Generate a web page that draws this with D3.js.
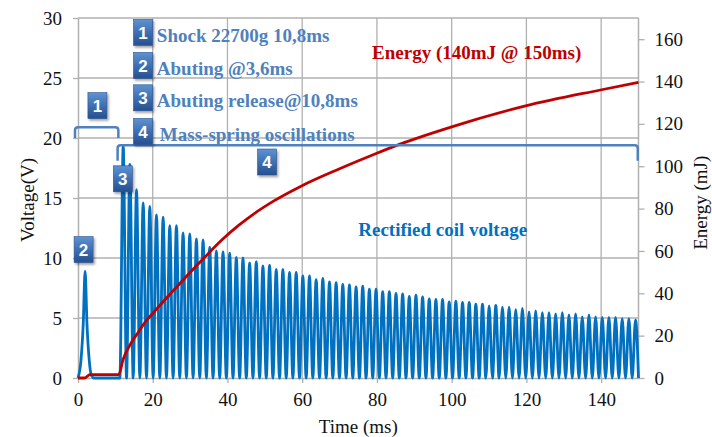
<!DOCTYPE html>
<html>
<head>
<meta charset="utf-8">
<script src="https://cdn.jsdelivr.net/npm/d3@7"></script>
<style>
  body { margin: 0; background: #fff; }
  svg { display: block; }
  text { font-family: "Liberation Serif", "Times New Roman", serif; }
</style>
</head>
<body>
<div id="chart"></div>
<script>
// tick values
const timeTicks = [0, 20, 40, 60, 80, 100, 120, 140];
const voltTicks = [0, 5, 10, 15, 20, 25, 30];
const energyTicks = [0, 20, 40, 60, 80, 100, 120, 140, 160];

// first (abutting) pulse of the coil voltage
const pulseT = [0, 0.8, 1.4, 1.9, 2.4, 3.0, 3.6, 4.3, 11.2];
const pulseV = [0, 1.5, 4.5, 8.9, 4.5, 1.5, 0.2, 0, 0];

// rectified oscillation peaks (ms, V)
const peakT = [12.10, 13.88, 15.66, 17.44, 19.22, 21.00, 22.78, 24.56, 26.34, 28.12,
  29.91, 31.69, 33.47, 35.25, 37.03, 38.81, 40.59, 42.37, 44.15, 45.93,
  47.71, 49.49, 51.27, 53.05, 54.83, 56.61, 58.39, 60.17, 61.95, 63.73,
  65.52, 67.30, 69.08, 70.86, 72.64, 74.42, 76.20, 77.98, 79.76, 81.54,
  83.32, 85.10, 86.88, 88.66, 90.44, 92.22, 94.00, 95.78, 97.56, 99.34,
  101.12, 102.91, 104.69, 106.47, 108.25, 110.03, 111.81, 113.59, 115.37, 117.15,
  118.93, 120.71, 122.49, 124.27, 126.05, 127.83, 129.61, 131.39, 133.17, 134.95,
  136.74, 138.52, 140.30, 142.08, 143.86, 145.64, 147.42, 149.20];
const peakV = [19.3, 17.8, 15.7, 14.6, 14.3, 13.6, 13.4, 12.7, 12.7, 12.1,
  12.0, 11.6, 11.5, 10.9, 10.6, 10.5, 10.4, 10.05, 10.0, 9.6,
  9.7, 9.35, 9.4, 9.05, 9.05, 8.8, 8.8, 8.5, 8.5, 8.2,
  8.3, 8.0, 7.95, 7.8, 7.75, 7.6, 7.65, 7.4, 7.4, 7.2,
  7.2, 7.05, 7.0, 6.8, 6.9, 6.75, 6.6, 6.55, 6.55, 6.35,
  6.4, 6.3, 6.3, 6.15, 6.15, 6.0, 6.05, 5.9, 5.9, 5.7,
  5.8, 5.5, 5.6, 5.45, 5.45, 5.35, 5.45, 5.25, 5.35, 5.1,
  5.25, 5.1, 5.05, 5.05, 5.05, 4.95, 4.95, 4.85];
const endT = 150;

// harvested energy (ms, mJ)
const energyT = [0, 1.8, 3.2, 10.9, 12.1, 14.3, 16.1, 17.9, 20.6, 25.0, 29.5, 33.9,
  38.4, 42.8, 46.8, 52.2, 59.7, 70.0, 79.8, 86.0, 99.8, 119.8, 139.8, 150];
const energyE = [0, 0, 1.6, 1.6, 8.9, 16.8, 21.5, 26.2, 31.7, 40.3, 48.9, 57.0,
  65.0, 71.8, 77.2, 83.4, 90.6, 98.8, 106.0, 110.3, 118.5, 128.5, 136, 139.6];

// annotations
const bracketFrom = [-0.8, 10.6];
const bracketTo = [10.8, 149.8];
const bracketTop = [20.9, 19.4];
const bracketFoot = [20.0, 18.1];
const markerLabels = ["1", "2", "3", "4"];
const markerT = [5.2, 1.5, 12.0, 50.6];
const markerV = [22.7, 10.7, 16.6, 18.0];
const legendLabels = ["Shock 22700g 10,8ms", "Abuting @3,6ms", "Abuting release@10,8ms", "Mass-spring oscillations"];
const legendV = [28.8, 26.05, 23.35, 20.55];
const legendBoxT = 17.4;
const legendTextT = [21.1, 21.1, 21.1, 21.9];

const width = 712, height = 437;
const fontSize = "19px";
const svg = d3.select("#chart").append("svg")
  .attr("width", width)
  .attr("height", height);

const x = d3.scaleLinear().domain([0, 150]).range([78, 638.5]);
const yV = d3.scaleLinear().domain([0, 30]).range([378, 18]);
const yE = d3.scaleLinear().domain([0, 170]).range([378, 18]);

const gridColor = "#b0b0b0";

// gradient for the numbered boxes
const defs = svg.append("defs");
const grad = defs.append("linearGradient").attr("id", "boxGrad")
  .attr("x1", 0).attr("y1", 0).attr("x2", 0).attr("y2", 1);
grad.append("stop").attr("offset", "0%").attr("stop-color", "#5f92d2");
grad.append("stop").attr("offset", "55%").attr("stop-color", "#3b6db0");
grad.append("stop").attr("offset", "100%").attr("stop-color", "#26508e");
const shadow = defs.append("filter").attr("id", "shadow")
  .attr("x", "-30%").attr("y", "-30%").attr("width", "160%").attr("height", "160%");
shadow.append("feDropShadow").attr("dx", 1.5).attr("dy", 2).attr("stdDeviation", 1.2)
  .attr("flood-color", "#000").attr("flood-opacity", 0.35);

// grid
svg.append("g").selectAll("line")
  .data(voltTicks.filter(d => d > 0))
  .enter().append("line")
  .attr("x1", x(0)).attr("x2", x(150))
  .attr("y1", d => yV(d)).attr("y2", d => yV(d))
  .attr("stroke", gridColor).attr("stroke-width", 1.3);
svg.append("g").selectAll("line")
  .data(timeTicks.filter(d => d > 0))
  .enter().append("line")
  .attr("x1", d => x(d)).attr("x2", d => x(d))
  .attr("y1", yV(30)).attr("y2", yV(0))
  .attr("stroke", gridColor).attr("stroke-width", 1.3);

// axes
const leftAxis = svg.append("g")
  .attr("transform", `translate(${x(0)},0)`)
  .call(d3.axisLeft(yV).tickValues(voltTicks).tickSize(5).tickSizeOuter(0).tickPadding(11));
const bottomAxis = svg.append("g")
  .attr("transform", `translate(0,${yV(0)})`)
  .call(d3.axisBottom(x).tickValues(timeTicks).tickSize(5).tickSizeOuter(0).tickPadding(10));
const rightAxis = svg.append("g")
  .attr("transform", `translate(${x(150)},0)`)
  .call(d3.axisRight(yE).tickValues(energyTicks).tickSize(6).tickSizeOuter(0).tickPadding(10));

[leftAxis, bottomAxis, rightAxis].forEach(a => {
  a.selectAll("path.domain").attr("stroke", gridColor).attr("stroke-width", 1.5);
  a.selectAll(".tick line").attr("stroke", gridColor).attr("stroke-width", 1.3);
  a.selectAll("text")
    .style("font-family", '"Liberation Serif", "Times New Roman", serif')
    .style("font-size", fontSize)
    .attr("fill", "#111");
});
rightAxis.select("path.domain").attr("d", `M0,${yV(30)}V${yV(0)}`);

// axis titles
svg.append("text")
  .attr("x", (x(0) + x(150)) / 2)
  .attr("y", 433)
  .attr("text-anchor", "middle")
  .style("font-size", fontSize)
  .attr("fill", "#111")
  .text("Time (ms)");
svg.append("text")
  .attr("transform", `translate(34,${yV(15) + 2}) rotate(-90)`)
  .attr("text-anchor", "middle")
  .style("font-size", fontSize)
  .attr("fill", "#111")
  .text("Voltage(V)");
svg.append("text")
  .attr("transform", `translate(707,${yV(14.6)}) rotate(-90)`)
  .attr("text-anchor", "middle")
  .style("font-size", fontSize)
  .attr("fill", "#111")
  .text("Energy (mJ)");

// coil voltage waveform
const voltPts = pulseT.map((t, i) => [t, pulseV[i]]);
peakT.forEach((t, i) => {
  voltPts.push([t, peakV[i]]);
  const next = i < peakT.length - 1 ? (t + peakT[i + 1]) / 2 : endT;
  voltPts.push([next, 0]);
});

const voltLine = d3.line()
  .x(d => x(d[0]))
  .y(d => yV(d[1]))
  .curve(d3.curveMonotoneX);

svg.append("path")
  .datum(voltPts)
  .attr("d", voltLine)
  .attr("fill", "none")
  .attr("stroke", "#0070c0")
  .attr("stroke-width", 2.8)
  .attr("stroke-linejoin", "round");

// energy curve
const energyLine = d3.line()
  .x((d, i) => x(energyT[i]))
  .y(d => yE(d))
  .curve(d3.curveMonotoneX);

svg.append("path")
  .datum(energyE)
  .attr("d", energyLine)
  .attr("fill", "none")
  .attr("stroke", "#c00000")
  .attr("stroke-width", 2.8)
  .attr("stroke-linejoin", "round");

// brackets
bracketFrom.forEach((t0, i) => {
  const x0 = x(t0), x1 = x(bracketTo[i]);
  const yt = yV(bracketTop[i]), yb = yV(bracketFoot[i]);
  const r = 3;
  svg.append("path")
    .attr("d", `M${x0},${yb}L${x0},${yt + r}Q${x0},${yt} ${x0 + r},${yt}L${x1 - r},${yt}Q${x1},${yt} ${x1},${yt + r}L${x1},${yb}`)
    .attr("fill", "none")
    .attr("stroke", "#4f81bd")
    .attr("stroke-width", 2.5);
});

// numbered boxes
function numberBox(cx, cy, label) {
  const g = svg.append("g").attr("transform", `translate(${cx},${cy})`);
  g.append("rect")
    .attr("x", -9.5).attr("y", -13)
    .attr("width", 19).attr("height", 26)
    .attr("fill", "url(#boxGrad)")
    .attr("stroke", "#2a5592")
    .attr("stroke-width", 0.6)
    .attr("filter", "url(#shadow)");
  g.append("text")
    .attr("text-anchor", "middle")
    .attr("dy", "0.36em")
    .style("font-family", '"Liberation Sans", Arial, sans-serif')
    .style("font-weight", "bold")
    .style("font-size", "17px")
    .attr("fill", "#fff")
    .text(label);
}

markerLabels.forEach((lab, i) => numberBox(x(markerT[i]), yV(markerV[i]), lab));

// legend of annotations
legendLabels.forEach((lab, i) => {
  numberBox(x(legendBoxT), yV(legendV[i]), markerLabels[i]);
  svg.append("text")
    .attr("x", x(legendTextT[i]))
    .attr("y", yV(legendV[i]) + 3)
    .attr("dy", "0.35em")
    .style("font-size", fontSize)
    .style("font-weight", "bold")
    .attr("fill", "#4f81bd")
    .text(lab);
});

// series labels
svg.append("text")
  .attr("x", x(78.7))
  .attr("y", yE(154))
  .attr("dy", "0.35em")
  .style("font-size", fontSize)
  .style("font-weight", "bold")
  .attr("fill", "#c00000")
  .text("Energy (140mJ @ 150ms)");

svg.append("text")
  .attr("x", x(75.0))
  .attr("y", yV(12.4))
  .attr("dy", "0.35em")
  .style("font-size", fontSize)
  .style("font-weight", "bold")
  .attr("fill", "#0070c0")
  .text("Rectified coil voltage");
</script>
</body>
</html>
